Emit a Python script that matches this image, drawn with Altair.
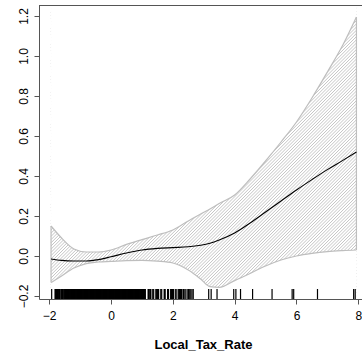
import math
import altair as alt
import pandas as pd

# ---- values ----
x_vals = [-1.94, -1.6, -1.2, -0.8, -0.4, 0.0, 0.5, 1.0, 1.5, 2.0, 2.5, 2.9, 3.2, 3.5,
          4.0, 4.5, 5.0, 5.5, 6.0, 6.5, 7.0, 7.5, 7.94]
upper_vals = [0.15, 0.09, 0.035, 0.02, 0.02, 0.03, 0.058, 0.082, 0.105, 0.13, 0.175, 0.21,
              0.235, 0.262, 0.305, 0.385, 0.475, 0.57, 0.67, 0.79, 0.92, 1.055, 1.195]
lower_vals = [-0.133, -0.10, -0.06, -0.038, -0.03, -0.027, -0.023, -0.022, -0.026, -0.035,
              -0.07, -0.115, -0.153, -0.157, -0.123, -0.087, -0.05, -0.02, 0.0, 0.013,
              0.022, 0.027, 0.03]
fit_vals = [-0.015, -0.022, -0.025, -0.025, -0.018, -0.004, 0.015, 0.03, 0.038, 0.042,
            0.046, 0.054, 0.064, 0.08, 0.115, 0.165, 0.22, 0.275, 0.33, 0.382, 0.432,
            0.478, 0.52]
rug_vals = [-1.92, -1.81, -1.78, -1.75, -1.72, -1.67, -1.61, -1.58, -1.55, -1.50, -1.47,
            -1.44, -1.41, -1.38, -1.35, -1.32, -1.29, -1.26, -1.23, -1.20, -1.17, -1.14,
            -1.11, -1.08, -1.05, -1.02, -0.99, -0.96, -0.93, -0.90, -0.87, -0.84, -0.81,
            -0.78, -0.75, -0.72, -0.69, -0.66, -0.63, -0.60, -0.57, -0.54, -0.51, -0.48,
            -0.45, -0.42, -0.39, -0.36, -0.33, -0.30, -0.27, -0.24, -0.21, -0.18, -0.15,
            -0.12, -0.09, -0.06, -0.03, 0.00, 0.03, 0.06, 0.09, 0.12, 0.15, 0.18, 0.21,
            0.24, 0.27, 0.30, 0.33, 0.36, 0.39, 0.42, 0.45, 0.48, 0.51, 0.54, 0.57, 0.60,
            0.63, 0.66, 0.69, 0.72, 0.75, 0.78, 0.81, 0.84, 0.87, 0.90, 0.93, 0.96, 0.99,
            1.02, 1.05, 1.08, 1.11, 1.20, 1.23, 1.26, 1.29, 1.35, 1.38, 1.45, 1.48, 1.51,
            1.54, 1.61, 1.64, 1.72, 1.75, 1.83, 1.86, 1.93, 1.96, 1.99, 2.02, 2.08, 2.13,
            2.19, 2.22, 2.25, 2.28, 2.33, 2.36, 2.40, 2.46, 2.50, 2.53, 2.58, 2.62, 2.66,
            3.16, 3.24, 3.43, 3.97, 4.04, 4.19, 4.58, 5.21, 5.86, 5.91, 6.68, 7.85, 7.90,
            -1.795, -1.765, -1.735, -1.695, -1.645, -1.595, -1.565, -1.525, -1.485, -1.455,
            -1.425, -1.395, -1.365, -1.335, -1.305, -1.275, -1.245, -1.215, -1.185, -1.155,
            -1.125, -1.095, -1.065, -1.035, -1.005, -0.975, -0.945, -0.915, -0.885, -0.855,
            -0.825, -0.795, -0.765, -0.735, -0.705, -0.675, -0.645, -0.615, -0.585, -0.555,
            -0.525, -0.495, -0.465, -0.435, -0.405, -0.375, -0.345, -0.315, -0.285, -0.255,
            -0.225, -0.195, -0.165, -0.135, -0.105, -0.075, -0.045, -0.015, 0.015, 0.045,
            0.075, 0.105, 0.135, 0.165, 0.195, 0.225, 0.255, 0.285, 0.315, 0.345, 0.375,
            0.405, 0.435, 0.465, 0.495, 0.525, 0.555, 0.585, 0.615, 0.645, 0.675, 0.705,
            0.735, 0.765, 0.795, 0.825, 0.855, 0.885, 0.915, 0.945, 0.975, 1.005, 1.035,
            1.065, 1.095, 1.215, 1.275, 1.485, 1.525, 1.735, 1.945, 1.975, 2.205, 2.235,
            2.265, 2.345, 2.515]
x_ticks = [-2, 0, 2, 4, 6, 8]
y_ticks = [-0.2, 0.0, 0.2, 0.4, 0.6, 0.8, 1.0, 1.2]

# ---- layout ----
XMIN, XMAX = -2.33, 8.12
YMIN, YMAX = -0.215, 1.255
W, H = 323, 294
FONT = "Liberation Sans"
FRAME = "#555555"
BAND = "#BEBEBE"

band = pd.DataFrame({"x": x_vals, "upper": upper_vals, "lower": lower_vals, "fit": fit_vals})
rug = pd.DataFrame({"r": rug_vals})

xs = alt.Scale(domain=[XMIN, XMAX], nice=False, zero=False)
ys = alt.Scale(domain=[YMIN, YMAX], nice=False, zero=False)

x_axis = alt.Axis(values=x_ticks, format="d", title="Local_Tax_Rate",
                  grid=False, tickSize=5, tickColor=FRAME, domainColor=FRAME,
                  labelFont=FONT, labelFontSize=12, labelColor="black",
                  labelPadding=6, labelFlush=False, labelOverlap=False,
                  titleFont=FONT, titleFontSize=13, titleFontWeight="bold",
                  titleColor="black", titleX=164, titleY=49,
                  titleBaseline="alphabetic", titleAlign="center", zindex=1)
y_axis = alt.Axis(values=y_ticks, format=".1f", title="", grid=False,
                  tickSize=5, tickColor=FRAME, domainColor=FRAME,
                  labelFont=FONT, labelFontSize=12, labelColor="black",
                  labelAngle=270, labelAlign="center", labelBaseline="alphabetic",
                  labelPadding=7, labelOverlap=False, zindex=1)

# hatch geometry (45 degree lines in pixel space)
px_x = W / (XMAX - XMIN)
px_y = H / (YMAX - YMIN)
k = px_x / px_y
gap_px = 3.2
dc = gap_px / px_y
x0, x1 = x_vals[0], x_vals[-1]
cmin = YMIN - k * x1
cmax = YMAX - k * x0
n = int(math.ceil((cmax - cmin) / dc)) + 1

base_x = alt.X("x:Q", scale=xs, axis=x_axis)

hatch = alt.Chart(alt.sequence(0, n, as_="i")).transform_calculate(
    c=f"{cmin} + datum.i * {dc}",
    x=f"{x0}", xb=f"{x1}",
    ya=f"datum.c + {k} * ({x0})", yb=f"datum.c + {k} * ({x1})",
).mark_rule(clip=True, stroke=BAND, strokeWidth=0.9).encode(
    x=base_x, x2="xb:Q",
    y=alt.Y("ya:Q", scale=ys, axis=y_axis), y2="yb:Q",
)

mask_top = alt.Chart(band).transform_calculate(top=f"{YMAX}").mark_area(
    fill="white", interpolate="monotone", clip=True
).encode(x=base_x, y=alt.Y("upper:Q", scale=ys, axis=y_axis), y2="top:Q")

mask_bot = alt.Chart(band).transform_calculate(bot=f"{YMIN}").mark_area(
    fill="white", interpolate="monotone", clip=True
).encode(x=base_x, y=alt.Y("lower:Q", scale=ys, axis=y_axis), y2="bot:Q")

up_line = alt.Chart(band).mark_line(color=BAND, strokeWidth=1.2, interpolate="monotone").encode(
    x=base_x, y=alt.Y("upper:Q", scale=ys, axis=y_axis))
lo_line = alt.Chart(band).mark_line(color=BAND, strokeWidth=1.2, interpolate="monotone").encode(
    x=base_x, y=alt.Y("lower:Q", scale=ys, axis=y_axis))
edges = alt.Chart(band).transform_filter(
    f"datum.x == {x0} || datum.x == {x1}"
).mark_rule(color=BAND, strokeWidth=1.2).encode(
    x=base_x, y=alt.Y("lower:Q", scale=ys, axis=y_axis), y2="upper:Q")

fit = alt.Chart(band).mark_line(color="black", strokeWidth=1.1, interpolate="monotone").encode(
    x=base_x, y=alt.Y("fit:Q", scale=ys, axis=y_axis))

rug_layer = alt.Chart(rug).mark_rule(color="black", strokeWidth=1.2).encode(
    x=alt.X("r:Q", scale=xs, axis=x_axis),
    y=alt.value(H - 10), y2=alt.value(H),
)

# top frame line of the plot box
top_frame = alt.Chart(band).mark_rule(color=FRAME, strokeWidth=1).encode(
    x=alt.value(0), x2=alt.value(W), y=alt.value(0.5))

chart = alt.layer(hatch, mask_top, mask_bot, up_line, lo_line, edges, fit, rug_layer,
                  top_frame).properties(
    width=W, height=H,
    autosize=alt.AutoSizeParams(type="none"),
    padding={"left": 39, "top": 5, "right": 0, "bottom": 53},
    background="white",
).configure_view(stroke=None)

chart.save("out.html", embed_options={"renderer": "svg", "actions": False})
